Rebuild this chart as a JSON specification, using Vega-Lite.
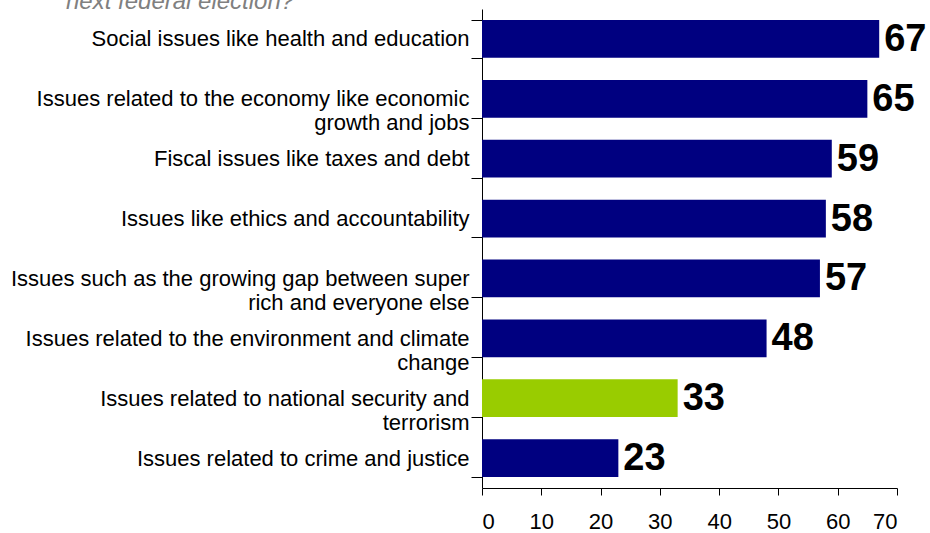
{
  "$schema": "https://vega.github.io/schema/vega-lite/v6.json",
  "autosize": {"type": "none"},
  "width": 415,
  "height": 479,
  "padding": {"left": 482, "top": 9, "right": 33, "bottom": 45},
  "background": "white",
  "config": {"view": {"stroke": null}, "font": "Liberation Sans"},
  "title": {
    "text": "next federal election?",
    "anchor": "start",
    "frame": "group",
    "orient": "top",
    "dx": -416,
    "offset": -16,
    "baseline": "top",
    "fontSize": 24,
    "fontStyle": "italic",
    "fontWeight": "normal",
    "font": "Liberation Sans",
    "color": "#808080"
  },
  "data": {
    "values": [
      {"issue": "Social issues like health and education", "pct": 67},
      {"issue": "Issues related to the economy like economic|growth and jobs", "pct": 65},
      {"issue": "Fiscal issues like taxes and debt", "pct": 59},
      {"issue": "Issues like ethics and accountability", "pct": 58},
      {"issue": "Issues such as the growing gap between super|rich and everyone else", "pct": 57},
      {"issue": "Issues related to the environment and climate|change", "pct": 48},
      {"issue": "Issues related to national security and|terrorism", "pct": 33},
      {"issue": "Issues related to crime and justice", "pct": 23}
    ]
  },
  "encoding": {
    "y": {
      "field": "issue",
      "type": "nominal",
      "sort": null,
      "title": null,
      "scale": {"paddingInner": 0.37, "paddingOuter": 0.185},
      "axis": {
        "labelExpr": "split(datum.label, '|')",
        "labelFontSize": 22,
        "labelFont": "Liberation Sans",
        "labelColor": "black",
        "labelLineHeight": 24,
        "labelLimit": 480,
        "labelPadding": 2,
        "tickBand": "extent",
        "tickSize": 11,
        "tickColor": "black",
        "domainColor": "black",
        "grid": false
      }
    },
    "x": {
      "field": "pct",
      "type": "quantitative",
      "title": null,
      "scale": {"domain": [0, 70], "nice": false},
      "axis": {
        "values": [0, 10, 20, 30, 40, 50, 60, 70],
        "labelFontSize": 22,
        "labelFont": "Liberation Sans",
        "labelColor": "black",
        "labelPadding": 16,
        "tickSize": 7,
        "tickColor": "black",
        "domainColor": "black",
        "grid": false
      }
    }
  },
  "layer": [
    {
      "mark": {"type": "bar"},
      "encoding": {
        "color": {
          "condition": {"test": "indexof(datum.issue, 'national security') >= 0", "value": "#99CC00"},
          "value": "#000080"
        }
      }
    },
    {
      "mark": {
        "type": "text",
        "align": "left",
        "baseline": "middle",
        "dx": 5,
        "dy": 1,
        "fontSize": 38,
        "fontWeight": "bold",
        "font": "Liberation Sans",
        "color": "black"
      },
      "encoding": {"text": {"field": "pct", "type": "quantitative"}}
    }
  ]
}
